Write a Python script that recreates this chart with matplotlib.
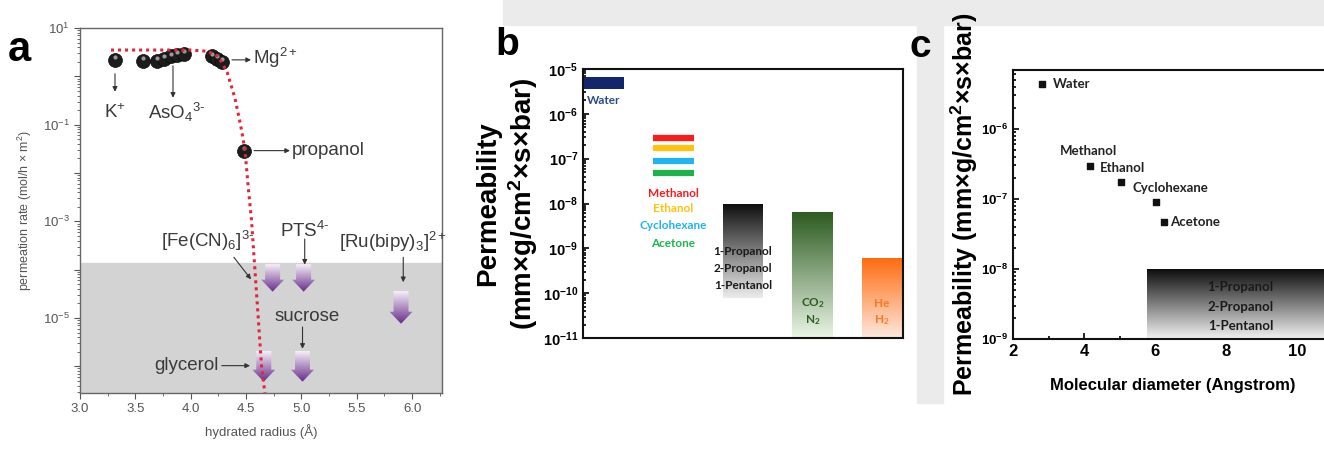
import numpy as np
import matplotlib
matplotlib.use('Agg')
import matplotlib.pyplot as plt
import matplotlib.colors as mcolors
import matplotlib.transforms as mtransforms
from matplotlib.patches import Polygon, Rectangle
from matplotlib.ticker import LogLocator, MultipleLocator, FuncFormatter, NullFormatter, NullLocator

plt.rcParams['font.family'] = ['Liberation Sans', 'DejaVu Sans']
plt.rcParams['mathtext.fontset'] = 'custom'
plt.rcParams['mathtext.rm'] = 'Liberation Sans'
plt.rcParams['mathtext.it'] = 'Liberation Sans:italic'
plt.rcParams['mathtext.bf'] = 'Liberation Sans:bold'
plt.rcParams['mathtext.default'] = 'regular'

# ---- panel a: permeation rate vs hydrated radius
ion_r = [3.32, 3.57, 3.70, 3.76, 3.82, 3.88, 3.94, 4.19, 4.24, 4.28]
ion_rate = [2.2, 2.1, 2.1, 2.3, 2.6, 2.8, 2.9, 2.6, 2.3, 2.0]
propanol_r = 4.48
propanol_rate = 0.029
fit_r = [3.28, 4.00, 4.15, 4.25, 4.33, 4.40, 4.45, 4.49, 4.52, 4.55, 4.58, 4.61, 4.64, 4.67]
fit_rate = [3.5, 3.5, 3.3, 2.6, 1.2, 0.35, 0.1, 0.03, 5e-3, 1e-3, 1e-4, 1e-5, 1e-6, 2.8e-7]
# species below detection: down arrows
limit_r = [4.74, 5.02, 5.90, 4.66, 5.01]
limit_top = [1.3e-4, 1.3e-4, 3.6e-5, 2.1e-6, 2.1e-6]
limit_tip = [3.5e-5, 3.5e-5, 7.6e-6, 4.8e-7, 4.8e-7]
detect_limit = 1.35e-4

# ---- panel b: permeability ranges
water_lo, water_hi = 3.6e-6, 6.6e-6
solvent_names = ['Methanol', 'Ethanol', 'Cyclohexane', 'Acetone']
solvent_perm = [2.9e-7, 1.75e-7, 8.9e-8, 4.8e-8]
solvent_colors = ['#fb1b1b', '#ffc20e', '#20b4f0', '#1db34c']
grad_top = [1e-8, 6.5e-9, 6.1e-10]
grad_bot = [8e-11, 1e-11, 1e-11]
grad_c0 = ['#0d0d0d', '#2b5a1f', '#ff6a0e']
grad_c1 = ['#ececec', '#eaf5e6', '#fde9dd']
grad_labels = [['1-Propanol', '2-Propanol', '1-Pentanol'], ['CO$_2$', 'N$_2$'], ['He', 'H$_2$']]
grad_text_c = ['#1a1a1a', '#2b5a1f', '#f47a2a']

# ---- panel c: permeability vs molecular diameter
c_names = ['Water', 'Methanol', 'Ethanol', 'Cyclohexane', 'Acetone']
c_diam = [2.82, 4.17, 5.04, 6.03, 6.25]
c_perm = [4.4e-6, 2.95e-7, 1.75e-7, 9.1e-8, 4.7e-8]
c_box_left = 5.77
c_box_top = 1e-8

W, H = 1324, 449
fig = plt.figure(figsize=(W / 100, H / 100), dpi=100)


def fbox(l, t, r, b):
    return [l / W, 1 - b / H, (r - l) / W, (b - t) / H]


def to_ax(ax, x, y):
    return (ax.transScale + ax.transLimits).transform((x, y))


def grad_fill(ax, verts, c_top, c_bot, z=3):
    poly = Polygon(verts, closed=True, transform=ax.transAxes, facecolor='none', edgecolor='none')
    ax.add_patch(poly)
    xs = [v[0] for v in verts]
    ys = [v[1] for v in verts]
    t = np.linspace(0, 1, 128)[:, None]
    c0 = np.array(mcolors.to_rgb(c_top))
    c1 = np.array(mcolors.to_rgb(c_bot))
    img = (c0 * (1 - t) + c1 * t)[:, None, :]
    im = ax.imshow(img, extent=[min(xs), max(xs), min(ys), max(ys)], transform=ax.transAxes,
                   aspect='auto', interpolation='bilinear', zorder=z)
    im.set_clip_path(poly)


# background watermark strips
fig.patches.append(Rectangle((503 / W, 1 - 25 / H), 1, 25 / H, transform=fig.transFigure,
                             color='#ebebeb', zorder=-5))
fig.patches.append(Rectangle((917 / W, 1 - 403 / H), 26 / W, 403 / H, transform=fig.transFigure,
                             color='#ebebeb', zorder=-5))

# ================= panel a
axa = fig.add_axes(fbox(80, 28, 442, 393))
axa.set_yscale('log')
axa.set_xlim(3.0, 6.27)
axa.set_ylim(2.8e-7, 10)
grey = '#555555'
for s in axa.spines.values():
    s.set_color('#666666')
    s.set_linewidth(1.0)
axa.axhspan(1e-8, detect_limit, color='#d3d3d3', zorder=0)
axa.plot(fit_r, fit_rate, color='#e0263a', ls=(0, (1, 1.3)), lw=2.2, zorder=6)
pts_r = ion_r + [propanol_r]
pts_v = ion_rate + [propanol_rate]
axa.scatter(pts_r, pts_v, s=100, color='#1c1c1c', edgecolors='#0a0a0a', linewidths=0.5, zorder=4)
hl = mtransforms.offset_copy(axa.transData, fig=fig, x=0, y=2.5, units='dots')
axa.scatter(pts_r, pts_v, s=9, color='#9a9a9a', linewidths=0, zorder=5, transform=hl)

aw, ah = 362.0, 365.0
for x, yt, yp in zip(limit_r, limit_top, limit_tip):
    xa, ya_t = to_ax(axa, x, yt)
    _, ya_p = to_ax(axa, x, yp)
    sw, hw, hlen = 7.5 / aw, 11.5 / aw, 12 / ah
    yh = ya_p + hlen
    verts = [(xa - sw, ya_t), (xa + sw, ya_t), (xa + sw, yh), (xa + hw, yh), (xa, ya_p),
             (xa - hw, yh), (xa - sw, yh)]
    grad_fill(axa, verts, '#f6f0f8', '#672a8a', z=3)

arr = dict(arrowstyle='-|>', color='#333333', lw=0.8, mutation_scale=7, shrinkA=0, shrinkB=0)
lab = dict(fontsize=13.5, color='#3a3a3a')
axa.annotate('', xy=(3.316, 0.48), xytext=(3.316, 1.13), arrowprops=arr)
axa.text(3.316, 0.178, r'$K^{+}$', ha='center', va='center', **lab)
axa.annotate('', xy=(3.84, 0.36), xytext=(3.84, 1.64), arrowprops=arr)
axa.text(3.876, 0.178, r'$AsO_4{}^{3\text{-}}$', ha='center', va='center', **lab)
axa.annotate('', xy=(4.545, 2.19), xytext=(4.373, 2.19), arrowprops=arr)
axa.text(4.563, 2.4, r'$Mg^{2+}$', ha='left', va='center', **lab)
axa.annotate('', xy=(4.897, 0.029), xytext=(4.572, 0.029), arrowprops=arr)
axa.text(4.915, 0.029, 'propanol', ha='left', va='center', **lab)
axa.annotate('', xy=(4.545, 6.3e-5), xytext=(4.39, 1.8e-4), arrowprops=arr)
axa.text(4.156, 3.9e-4, r'$[Fe(CN)_6]^{3\text{-}}$', ha='center', va='center', **lab)
axa.annotate('', xy=(5.03, 1.27e-4), xytext=(5.03, 4.3e-4), arrowprops=arr)
axa.text(5.03, 6.3e-4, r'$PTS^{4\text{-}}$', ha='center', va='center', **lab)
axa.annotate('', xy=(5.92, 5.5e-5), xytext=(5.92, 1.8e-4), arrowprops=arr)
axa.text(5.83, 3.7e-4, r'$[Ru(bipy)_3]^{2+}$', ha='center', va='center', **lab)
axa.annotate('', xy=(5.01, 2.3e-6), xytext=(5.01, 6.5e-6), arrowprops=arr)
axa.text(5.05, 1.05e-5, 'sucrose', ha='center', va='center', **lab)
axa.annotate('', xy=(4.536, 1.03e-6), xytext=(4.28, 1.03e-6), arrowprops=arr)
axa.text(3.96, 1.03e-6, 'glycerol', ha='center', va='center', **lab)

axa.xaxis.set_major_locator(MultipleLocator(0.5))
axa.xaxis.set_minor_locator(MultipleLocator(0.25))
axa.xaxis.set_major_formatter(FuncFormatter(lambda v, p: '%.1f' % v))
axa.yaxis.set_major_locator(LogLocator(base=10, subs=[1.0], numticks=20))
axa.yaxis.set_minor_locator(LogLocator(base=10, subs=np.arange(2, 10), numticks=20))
axa.yaxis.set_major_formatter(FuncFormatter(
    lambda v, p: '10$^{%d}$' % round(np.log10(v)) if round(np.log10(v)) % 2 == 1 else ''))
axa.yaxis.set_minor_formatter(NullFormatter())
axa.tick_params(which='both', direction='out', colors='#555555', labelcolor=grey, labelsize=9.5)
axa.tick_params(which='major', length=4)
axa.tick_params(which='minor', length=2)
axa.set_xlabel('hydrated radius (Å)', fontsize=9.5, color=grey, labelpad=6)
axa.set_ylabel('permeation rate (mol/h × m$^2$)', fontsize=9, color=grey, labelpad=6)
fig.text(19 / W, 1 - 50 / H, 'a', fontsize=30, fontweight='bold', ha='center', va='center')

# ================= panel b
axb = fig.add_axes(fbox(583, 69, 903, 338))
axb.set_yscale('log')
axb.set_xlim(-0.3, 4.3)
axb.set_ylim(1e-11, 1e-5)
for s in axb.spines.values():
    s.set_color('#111111')
    s.set_linewidth(1.5)
bw = 0.58
axb.bar(0, water_hi - water_lo, bottom=water_lo, width=bw, color='#13256b', zorder=3)
axb.text(0, 1.94e-6, 'Water', ha='center', va='center', color='#2a4a8a', fontsize=8.5,
         family='Lato', fontweight='bold')
axb.hlines(solvent_perm, 1 - bw / 2, 1 + bw / 2, colors=solvent_colors, lw=4.5, zorder=3)
for nm, col, yy in zip(solvent_names, solvent_colors, [1.7e-8, 7.6e-9, 3.2e-9, 1.3e-9]):
    axb.text(1, yy, nm, ha='center', va='center', color=col, fontsize=8.5, family='Lato',
             fontweight='bold')
lab_y = [[8.3e-10, 3.6e-10, 1.5e-10], [6.0e-11, 2.5e-11], [6.0e-11, 2.5e-11]]
for i in range(3):
    xc = 2 + i
    x0, y0 = to_ax(axb, xc - bw / 2, grad_top[i])
    x1, y1 = to_ax(axb, xc + bw / 2, grad_bot[i])
    grad_fill(axb, [(x0, y0), (x1, y0), (x1, y1), (x0, y1)], grad_c0[i], grad_c1[i], z=2)
    for txt, yy in zip(grad_labels[i], lab_y[i]):
        axb.text(xc, yy, txt, ha='center', va='center', color=grad_text_c[i], fontsize=8.5,
                 family='Lato', fontweight='bold', zorder=4)
axb.xaxis.set_major_locator(NullLocator())
axb.yaxis.set_major_locator(LogLocator(base=10, subs=[1.0], numticks=20))
axb.yaxis.set_minor_locator(LogLocator(base=10, subs=np.arange(2, 10), numticks=20))
axb.yaxis.set_major_formatter(FuncFormatter(lambda v, p: r'$\mathbf{10^{%d}}$' % round(np.log10(v))))
axb.yaxis.set_minor_formatter(NullFormatter())
axb.tick_params(which='both', direction='in', labelsize=10.5, width=1.2)
axb.tick_params(which='major', length=4)
axb.tick_params(which='minor', length=2)
axb.text(-0.296, 0.5, 'Permeability', transform=axb.transAxes, rotation=90, ha='center',
         va='center', fontsize=20, fontweight='bold')
axb.text(-0.188, 0.5, '(mm×g/cm$^{\\mathbf{2}}$×s×bar)', transform=axb.transAxes, rotation=90,
         ha='center', va='center', fontsize=20, fontweight='bold')
fig.text(507 / W, 1 - 45 / H, 'b', fontsize=28, fontweight='bold', ha='center', va='center')

# ================= panel c
axc = fig.add_axes(fbox(1013, 70, 1333, 339))
axc.set_yscale('log')
axc.set_xlim(2, 11)
axc.set_ylim(1e-9, 6.9e-6)
for s in axc.spines.values():
    s.set_color('#111111')
    s.set_linewidth(1.5)
axc.scatter(c_diam, c_perm, marker='s', s=18, color='#111111', zorder=4)
offs = [(8, 0, 'left'), (-1, 11, 'center'), (-15, 10, 'left'), (-17, 10, 'left'), (4, 0, 'left')]
for nm, x, y, (dx, dy, ha) in zip(c_names, c_diam, c_perm, offs):
    axc.annotate(nm, (x, y), xytext=(dx, dy), textcoords='offset points', ha=ha, va='center',
                 fontsize=9.5, family='Lato', fontweight='bold', color='#222222')
x0, y0 = to_ax(axc, c_box_left, c_box_top)
grad_fill(axc, [(x0, y0), (1, y0), (1, 0), (x0, 0)], '#0a0a0a', '#f2f2f2', z=2)
for txt, yy in zip(['1-Propanol', '2-Propanol', '1-Pentanol'], [5.5e-9, 2.9e-9, 1.55e-9]):
    axc.text(8.4, yy, txt, ha='center', va='center', fontsize=9.5, family='Lato',
             fontweight='bold', color='#1a1a1a', zorder=4)
axc.xaxis.set_major_locator(MultipleLocator(2))
axc.xaxis.set_minor_locator(MultipleLocator(1))
axc.yaxis.set_major_locator(LogLocator(base=10, subs=[1.0], numticks=20))
axc.yaxis.set_minor_locator(LogLocator(base=10, subs=np.arange(2, 10), numticks=20))
axc.yaxis.set_major_formatter(FuncFormatter(lambda v, p: r'$\mathbf{10^{%d}}$' % round(np.log10(v))))
axc.yaxis.set_minor_formatter(NullFormatter())
axc.tick_params(which='both', direction='in', width=1.2)
axc.tick_params(axis='x', labelsize=12)
axc.tick_params(axis='y', labelsize=9.5)
axc.tick_params(which='major', length=4)
axc.tick_params(which='minor', length=2)
for t in axc.get_xticklabels():
    t.set_fontweight('bold')
axc.set_xlabel('Molecular diameter (Angstrom)', fontsize=12, fontweight='bold', labelpad=14)
axc.set_ylabel('Permeability (mm×g/cm$^{\\mathbf{2}}$×s×bar)', fontsize=18, fontweight='bold',
               labelpad=1)
fig.text(920 / W, 1 - 47 / H, 'c', fontsize=28, fontweight='bold', ha='center', va='center')

fig.savefig('out.png', dpi=100)
